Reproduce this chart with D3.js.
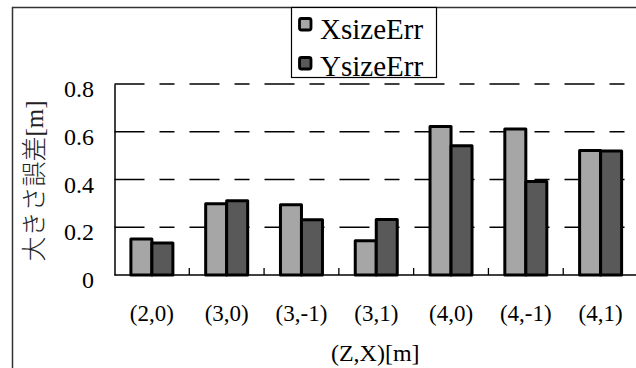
<!DOCTYPE html>
<html>
<head>
<meta charset="utf-8">
<script src="https://cdn.jsdelivr.net/npm/d3@7/dist/d3.min.js"></script>
<style>
  html, body { margin: 0; padding: 0; background: #fff; }
  svg { display: block; }
  text { font-family: "Liberation Serif", "Noto Sans CJK JP", serif; fill: #000; }
</style>
</head>
<body>
<svg id="chart" width="636" height="368"></svg>
<script>
// ---- data ----
const categories = ["(2,0)", "(3,0)", "(3,-1)", "(3,1)", "(4,0)", "(4,-1)", "(4,1)"];
const seriesNames = ["XsizeErr", "YsizeErr"];
const xSizeErr = [0.151, 0.298, 0.294, 0.143, 0.622, 0.612, 0.521];
const ySizeErr = [0.134, 0.311, 0.231, 0.232, 0.541, 0.392, 0.519];
const yTicks = [0, 0.2, 0.4, 0.6, 0.8];
const yTickLabels = ["0", "0.2", "0.4", "0.6", "0.8"];
const xTitle = "(Z,X)[m]";
const yTitle = "大きさ誤差[m]";
const colors = ["#a6a6a6", "#595959"];

const serif = "'Liberation Serif', 'Times New Roman', serif";
const svg = d3.select("#chart");

// outer frame (extends beyond the visible area on right/bottom)
svg.append("rect")
  .attr("x", 12.5).attr("y", 7.5).attr("width", 700).attr("height", 500)
  .attr("fill", "none").attr("stroke", "#333").attr("stroke-width", 1.5);

const x = d3.scaleBand().domain(categories).range([114.5, 638]).padding(0);
const y = d3.scaleLinear().domain([0, 0.8]).range([275, 84]);
const inner = d3.scaleBand().domain(seriesNames).range([0, 42]).padding(0);
const innerOffset = (x.bandwidth() - 42) / 2;

// gridlines
svg.append("g").selectAll("line")
  .data(yTicks.filter(d => d > 0))
  .join("line")
  .attr("x1", 114.5).attr("x2", 640)
  .attr("y1", d => y(d)).attr("y2", d => y(d))
  .attr("stroke", "#000").attr("stroke-width", 1.3)
  .attr("stroke-dasharray", "30,15,15,15");

// bars
const rows = categories.map((c, i) => ({ c, vals: [xSizeErr[i], ySizeErr[i]] }));
const groups = svg.append("g").selectAll("g")
  .data(rows).join("g")
  .attr("transform", d => `translate(${x(d.c) + innerOffset},0)`);
groups.selectAll("rect")
  .data(d => d.vals.map((v, k) => ({ v, k })))
  .join("rect")
  .attr("x", d => inner(seriesNames[d.k]))
  .attr("width", inner.bandwidth())
  .attr("y", d => y(d.v))
  .attr("height", d => y(0) - y(d.v))
  .attr("fill", d => colors[d.k])
  .attr("stroke", "#000").attr("stroke-width", 3)
  .attr("stroke-linejoin", "round");

// x axis
const xAxis = svg.append("g").attr("transform", `translate(0,${y(0)})`)
  .call(d3.axisBottom(x).tickSize(0).tickSizeOuter(0).tickFormat(d => d))
  .attr("font-family", serif).attr("font-size", 23);
xAxis.select(".domain").attr("stroke", "#000").attr("stroke-width", 1.5)
  .attr("d", `M114.5,0H640`);
xAxis.selectAll(".tick text")
  .attr("y", 46).attr("dy", 0)
  .style("font-size", "23px")
  .style("font-family", serif);
// category separator ticks (pointing up)
svg.append("g").selectAll("line")
  .data(categories.slice(1))
  .join("line")
  .attr("x1", d => x(d)).attr("x2", d => x(d))
  .attr("y1", y(0)).attr("y2", y(0) - 7)
  .attr("stroke", "#000").attr("stroke-width", 1.3);

// y axis
const yAxis = svg.append("g").attr("transform", "translate(114.5,0)")
  .call(d3.axisLeft(y).tickValues(yTicks).tickSize(0).tickSizeOuter(0)
    .tickFormat((d, i) => yTickLabels[i]))
  .attr("font-family", serif).attr("font-size", 24);
yAxis.select(".domain").attr("stroke", "#000").attr("stroke-width", 1.5);
yAxis.selectAll(".tick text")
  .attr("x", -20.5).attr("dy", 12.5).attr("y", 0)
  .style("font-size", "24px")
  .style("font-family", serif);

// axis titles
svg.append("text")
  .attr("x", x.range()[0] + (x.range()[1] - x.range()[0]) / 2 - 1)
  .attr("y", 361)
  .attr("text-anchor", "middle")
  .style("font-size", "24px")
  .style("font-family", serif)
  .text(xTitle);

svg.append("text")
  .attr("transform", "translate(34,181) rotate(-90)")
  .attr("text-anchor", "middle")
  .attr("dominant-baseline", "central")
  .style("font-size", "25px")
  .style("font-weight", "300")
  .style("font-family", "'Liberation Serif', 'Noto Sans CJK JP', serif")
  .style("fill", "#222")
  .text(yTitle);

// legend
const lg = svg.append("g");
lg.append("rect")
  .attr("x", 291.5).attr("y", 7.5).attr("width", 145).attr("height", 70)
  .attr("fill", "#fff").attr("stroke", "#000").attr("stroke-width", 1.2);
const legendRows = [18.5, 57.5];
const textBase = [38.5, 75.5];
seriesNames.forEach((s, i) => {
  lg.append("rect")
    .attr("x", 299.5).attr("y", legendRows[i]).attr("width", 11.5).attr("height", 11.5)
    .attr("rx", 2)
    .attr("fill", colors[i]).attr("stroke", "#000").attr("stroke-width", 2.8);
  lg.append("text")
    .attr("x", 320).attr("y", textBase[i])
    .style("font-size", "29px")
    .style("font-family", serif)
    .text(s);
});
</script>
</body>
</html>
